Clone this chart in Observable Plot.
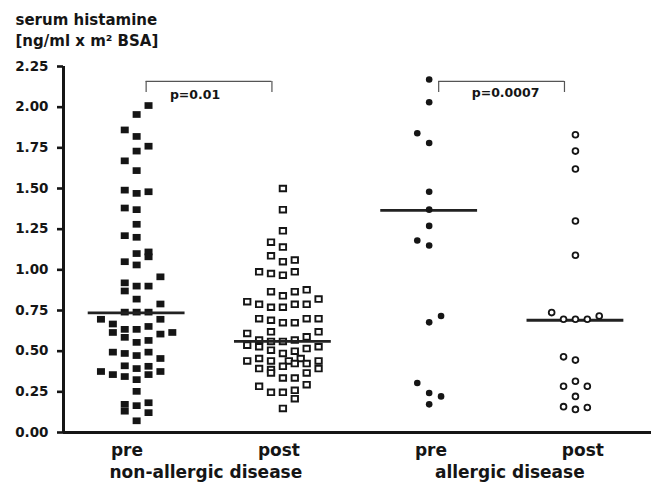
<!DOCTYPE html>
<html>
<head>
<meta charset="utf-8">
<script src="https://cdn.jsdelivr.net/npm/d3@7"></script>
<script src="https://cdn.jsdelivr.net/npm/@observablehq/plot@0.6"></script>
<style>
  body { margin: 0; background: #fff; }
  #chart svg { display: block; }
</style>
</head>
<body>
<div id="chart"></div>
<script>
// ---- data ----
const groupNames = ["non-allergic pre", "non-allergic post", "allergic pre", "allergic post"];
const tickLabels = ["pre", "post", "pre", "post"];
const diseaseLabels = ["non-allergic disease", "allergic disease"];
const yTicks = [0, 0.25, 0.5, 0.75, 1, 1.25, 1.5, 1.75, 2, 2.25];
const titleLines = ["serum histamine", "[ng/ml x m\u00B2 BSA]"];

const nonAllergicPre = [2.01, 1.955, 1.86, 1.82, 1.76, 1.73, 1.67, 1.61, 1.49, 1.47, 1.48, 1.38, 1.37, 1.28, 1.21, 1.20, 1.10, 1.11, 1.08, 1.05, 1.03,
  0.957, 0.92, 0.87, 0.90, 0.90, 0.82, 0.79, 0.74, 0.74, 0.74, 0.696, 0.696, 0.667, 0.652, 0.615, 0.634, 0.634, 0.615, 0.605, 0.585, 0.566, 0.554,
  0.494, 0.486, 0.473, 0.494, 0.455, 0.41, 0.407, 0.393, 0.375, 0.356, 0.344, 0.356, 0.375, 0.325, 0.253, 0.173, 0.131, 0.165, 0.183, 0.122, 0.072];
const nonAllergicPreSlot = [1, 0, -1, 0, 1, 0, -1, 0, -1, 0, 1, -1, 0, 0, -1, 0, 0, 1, 1, -1, 0,
  2, -1, -1, 0, 1, 0, 2, -1, 0, 1, -3, 2, -2, 1, -2, -1, 0, 3, 2, -1, 1, 0,
  -2, -1, 0, 1, 2, -1, 1, 0, -3, -2, -1, 1, 2, 0, 0, -1, -1, 0, 1, 1, 0];

const nonAllergicPost = [1.50, 1.37, 1.24, 1.17, 1.14, 1.086, 1.05, 1.06, 0.988, 0.977, 0.967, 0.988,
  0.866, 0.84, 0.866, 0.877, 0.804, 0.788, 0.77, 0.77, 0.788, 0.788, 0.82, 0.70, 0.69, 0.675, 0.675, 0.70, 0.70,
  0.609, 0.619, 0.619, 0.568, 0.56, 0.56, 0.568, 0.588, 0.537, 0.527, 0.506, 0.486, 0.50, 0.516, 0.527,
  0.44, 0.455, 0.44, 0.44, 0.455, 0.407, 0.424, 0.424, 0.44, 0.393, 0.387, 0.366, 0.393, 0.366,
  0.335, 0.335, 0.294, 0.284, 0.247, 0.247, 0.259, 0.208, 0.148];
const nonAllergicPostSlot = [0, 0, 0, -1, 0, -1, 0, 1, -2, -1, 0, 1,
  -1, 0, 1, 2, -3, -2, -1, 0, 1, 2, 3, -2, -1, 0, 1, 2, 3,
  -3, -1, 3, -2, -1, 0, 1, 2, -3, -2, -1, 0, 1, 2, 3,
  -3, -2, -1, 0.5, 1.5, 0, 1, 2, 3, -2, -1, -1, 3, 2,
  0, 1, 2, -2, -1, 0, 1, 1, 0];

const allergicPre = [2.17, 2.03, 1.84, 1.78, 1.48, 1.37, 1.27, 1.18, 1.15, 0.716, 0.677, 0.304, 0.243, 0.222, 0.173];
const allergicPreSlot = [0, 0, -1, 0, 0, 0, 0, -1, 0, 1, 0, -1, 0, 1, 0];

const allergicPost = [1.83, 1.73, 1.62, 1.30, 1.09, 0.737, 0.696, 0.696, 0.696, 0.716, 0.465, 0.445, 0.315, 0.284, 0.284, 0.222, 0.159, 0.142, 0.154];
const allergicPostSlot = [0, 0, 0, 0, 0, -2, -1, 0, 1, 2, -1, 0, 0, -1, 1, 0, -1, 0, 1];

const medians = [0.735, 0.56, 1.366, 0.69];
const pLabels = ["p=0.01", "p=0.0007"];
const pPairs = [[0, 1], [2, 3]];

// ---- build tables ----
const STEP = 0.0813;
const series = [
  {values: nonAllergicPre, slots: nonAllergicPreSlot},
  {values: nonAllergicPost, slots: nonAllergicPostSlot},
  {values: allergicPre, slots: allergicPreSlot},
  {values: allergicPost, slots: allergicPostSlot}
];
const points = series.flatMap((s, g) => s.values.map((v, k) => ({g, x: g + s.slots[k] * STEP, y: v})));
const medianData = medians.map((m, g) => ({g, y: m}));
const brackets = pPairs.map(([a, b], i) => ({x1: a + 0.065, x2: b - 0.075, label: pLabels[i]}));

const rectSymbol = (w, h) => ({
  draw(ctx) {
    ctx.moveTo(-w / 2, -h / 2);
    ctx.lineTo(w / 2, -h / 2);
    ctx.lineTo(w / 2, h / 2);
    ctx.lineTo(-w / 2, h / 2);
    ctx.closePath();
  }
});

const ink = "#151515";
const font = "DejaVu Sans";

const chart = Plot.plot({
  width: 651,
  height: 482,
  marginLeft: 63,
  marginRight: 0,
  marginTop: 66,
  marginBottom: 50,
  style: {fontFamily: font, fontWeight: "bold", background: "#fff", color: ink, overflow: "visible"},
  x: {domain: [-0.5, 3.52], axis: null},
  y: {domain: [0, 2.25], axis: null},
  marks: [
    // axes
    Plot.axisY({ticks: yTicks, tickFormat: d3.format(".2f"), tickSize: 6, tickPadding: 9, fontSize: 13.5, strokeWidth: 2.6, stroke: ink, fill: ink, label: null}),
    Plot.ruleX([-0.5], {y1: 0, y2: 2.25, stroke: ink, strokeWidth: 3}),
    Plot.ruleY([0], {stroke: ink, strokeWidth: 3}),
    // title
    Plot.text([titleLines.join("\n")], {frameAnchor: "top-left", dx: -48, dy: -21, textAnchor: "start", lineAnchor: "bottom", lineHeight: 1.35, fontSize: 15, fill: ink}),
    // x labels
    Plot.text(tickLabels, {x: (d, i) => i * 1.039 - 0.066, frameAnchor: "bottom", dy: 23, lineAnchor: "bottom", fontSize: 17, fill: ink}),
    Plot.text(diseaseLabels, {x: (d, i) => (2 * i + 0.5) * 1.039 - 0.066 + 0.02, frameAnchor: "bottom", dy: 45, lineAnchor: "bottom", fontSize: 17, fill: ink}),
    // squares
    Plot.dot(points.filter(d => d.g === 0), {x: "x", y: "y", symbol: rectSymbol(8, 6.7), fill: ink, stroke: "none"}),
    Plot.dot(points.filter(d => d.g === 1), {x: "x", y: "y", symbol: rectSymbol(6.4, 5.6), fill: "#fff", stroke: ink, strokeWidth: 1.9}),
    // medians
    Plot.ruleY(medianData, {y: "y", x1: d => d.g - 0.331, x2: d => d.g + 0.331, stroke: "#222", strokeWidth: 2.8}),
    // circles
    Plot.dot(points.filter(d => d.g === 2), {x: "x", y: "y", symbol: "circle", r: 3.3, fill: ink, stroke: "none"}),
    Plot.dot(points.filter(d => d.g === 3), {x: "x", y: "y", symbol: "circle", r: 2.9, fill: "#fff", stroke: ink, strokeWidth: 1.8}),
    // significance brackets
    Plot.ruleY(brackets, {y: 2.158, x1: "x1", x2: "x2", stroke: "#555", strokeWidth: 1.2}),
    Plot.ruleX(brackets, {x: "x1", y1: 2.09, y2: 2.158, stroke: "#555", strokeWidth: 1.2}),
    Plot.ruleX(brackets, {x: "x2", y1: 2.09, y2: 2.158, stroke: "#555", strokeWidth: 1.2}),
    Plot.text(brackets.slice(0, 1), {x: d => (d.x1 + d.x2) / 2, y: 2.158, dx: -14, dy: 18, lineAnchor: "bottom", text: "label", fontSize: 12.5, fill: ink}),
    Plot.text(brackets.slice(1), {x: d => (d.x1 + d.x2) / 2, y: 2.158, dx: 4, dy: 16, lineAnchor: "bottom", text: "label", fontSize: 12.5, fill: ink})
  ]
});
document.getElementById("chart").appendChild(chart);
</script>
</body>
</html>
